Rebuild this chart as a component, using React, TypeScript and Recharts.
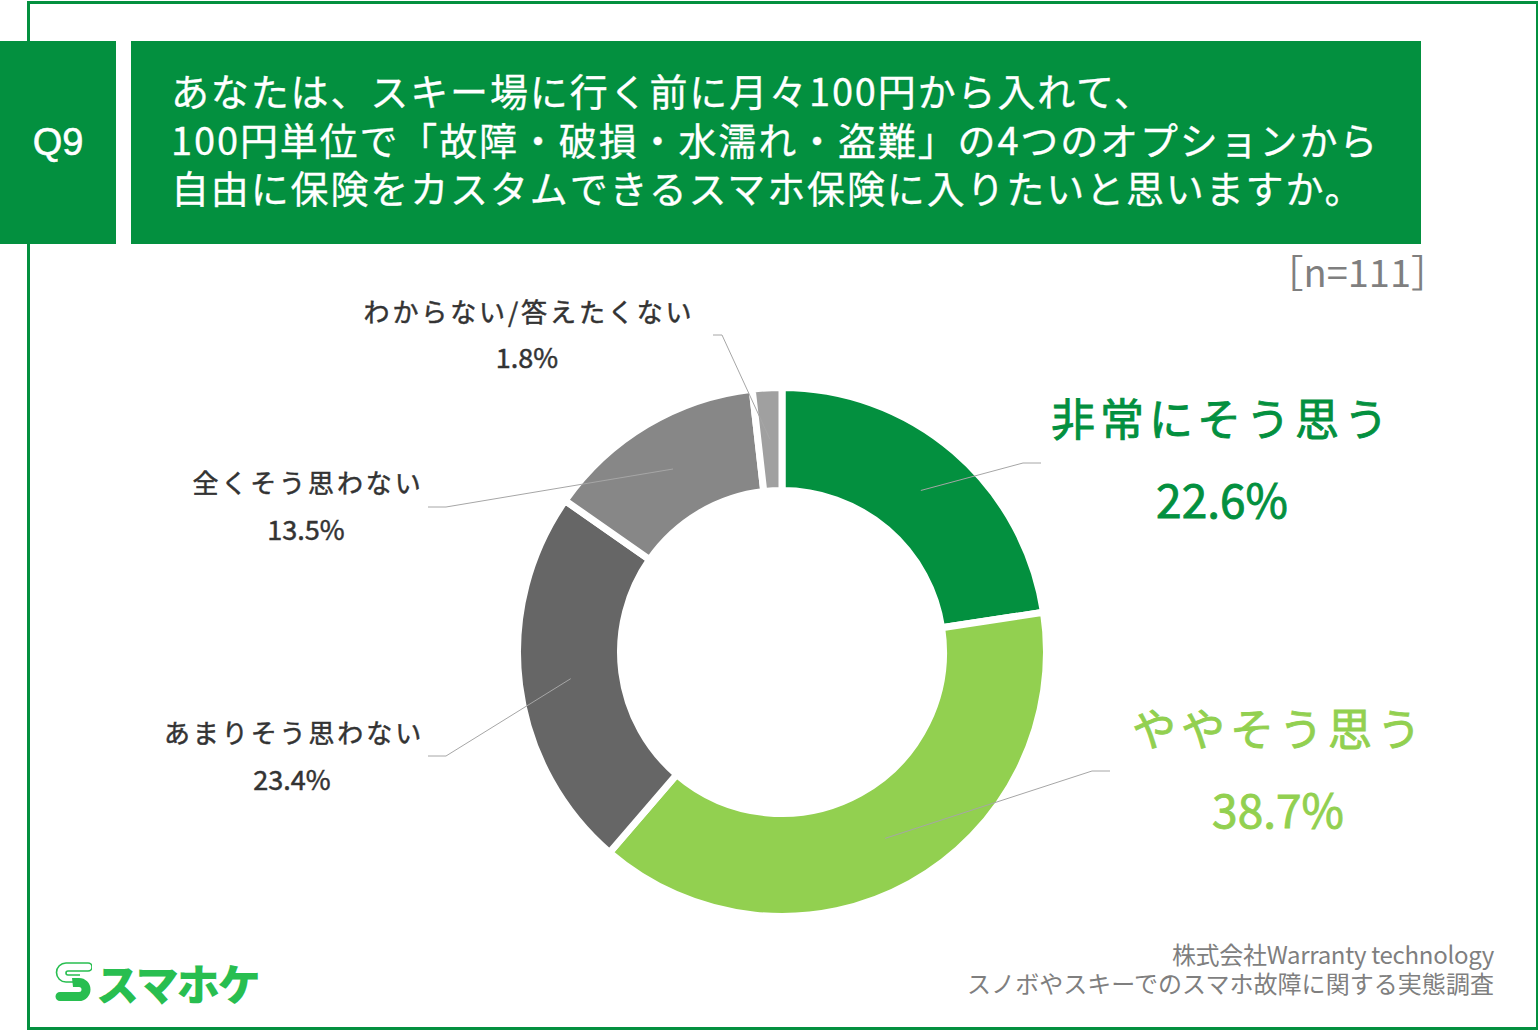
import { PieChart, Pie, Cell } from "recharts";

const categories = [
  "非常にそう思う",
  "ややそう思う",
  "あまりそう思わない",
  "全くそう思わない",
  "わからない/答えたくない",
];
const shares = [22.6, 38.7, 23.4, 13.5, 1.8];
const colors = ["#03903F", "#92D050", "#666666", "#878787", "#A0A0A0"];
const questionLines = [
  "あなたは、スキー場に行く前に月々100円から入れて、",
  "100円単位で「故障・破損・水濡れ・盗難」の4つのオプションから",
  "自由に保険をカスタムできるスマホ保険に入りたいと思いますか。",
];
const sourceLines = ["株式会社Warranty technology", "スノボやスキーでのスマホ故障に関する実態調査"];

const data = categories.map((name, i) => ({ name, value: shares[i] }));

// label placement, hand fitted
const labelSpots = [
  { x: 1222, px: 1222, y1: 436, y2: 518, big: true, color: colors[0], elbow: [1023, 463], end: [1041, 463] },
  { x: 1279, px: 1278, y1: 746, y2: 828, big: true, color: colors[1], elbow: [1092, 771], end: [1110, 771] },
  { x: 294, px: 292, y1: 743, y2: 790, big: false, color: "#333333", elbow: [446, 756], end: [428, 756] },
  { x: 308, px: 306, y1: 493, y2: 540, big: false, color: "#333333", elbow: [446, 507], end: [428, 507] },
  { x: 529, px: 527, y1: 322, y2: 368, big: false, color: "#333333", elbow: [722, 335], end: [713, 335] },
];

const FONT = '"Noto Sans CJK JP", "Noto Sans", sans-serif';
const GREEN = "#03903F";
const RAD = Math.PI / 180;

function SliceLabel(props: any) {
  const s = labelSpots[props.index];
  const size = s.big ? 44 : 26;
  const pctSize = s.big ? 46 : 27;
  return (
    <g fontFamily={FONT} textAnchor="middle" fill={s.color} stroke={s.color} strokeWidth={s.big ? 0.9 : 0.5}>
      <text x={s.x} y={s.y1} fontSize={size} letterSpacing={s.big ? 5 : 2.9}>
        {categories[props.index]}
      </text>
      <text x={s.px} y={s.y2} fontSize={pctSize}>
        {shares[props.index].toFixed(1)}%
      </text>
    </g>
  );
}

function LeaderLine(props: any) {
  const s = labelSpots[props.index];
  const r = (props.innerRadius + props.outerRadius) / 2;
  const x = props.cx + r * Math.cos(-props.midAngle * RAD);
  const y = props.cy + r * Math.sin(-props.midAngle * RAD);
  return (
    <polyline
      points={`${x},${y} ${s.elbow.join(",")} ${s.end.join(",")}`}
      fill="none"
      stroke="#A6A6A6"
      strokeWidth={1}
    />
  );
}

const box = (left: number, top: number, width: number, height: number, background: string) => ({
  position: "absolute" as const,
  left,
  top,
  width,
  height,
  background,
});

export default function App() {
  return (
    <div style={{ position: "absolute", left: 0, top: 0, width: 1538, height: 1032, background: "#fff", overflow: "hidden", fontFamily: FONT }}>
      {/* outer frame */}
      <div style={{ position: "absolute", left: 27, top: 1, width: 1506, height: 1023, border: `3px solid ${GREEN}` }} />

      <div style={box(0, 41, 116, 203, GREEN)} />
      <div style={box(131, 41, 1290, 203, GREEN)} />
      <div style={{ position: "absolute", left: 0, top: 41, width: 116, height: 203, lineHeight: "203px", textAlign: "center", color: "#fff", fontSize: 38, fontFamily: "Liberation Sans", WebkitTextStroke: "0.6px #fff" }}>
        Q9
      </div>
      {questionLines.map((line, i) => (
        <div key={line} style={{ position: "absolute", left: 171, top: 66 + i * 48.5, lineHeight: "48px", fontSize: 38, letterSpacing: 1.87, color: "#fff", whiteSpace: "nowrap", WebkitTextStroke: "0.3px #fff" }}>
          {line}
        </div>
      ))}
      <div style={{ position: "absolute", right: 89, top: 247, lineHeight: "48px", fontSize: 38, color: "#7F7F7F", whiteSpace: "nowrap" }}>
        ［n=111］
      </div>

      <div style={{ position: "absolute", left: 0, top: 0 }}>
        <PieChart width={1538} height={1032} margin={{ top: 0, right: 0, bottom: 0, left: 0 }}>
          <Pie
            data={data}
            dataKey="value"
            nameKey="name"
            cx={782}
            cy={652}
            innerRadius={161.5}
            outerRadius={264.5}
            startAngle={90}
            endAngle={-270}
            stroke="#fff"
            strokeWidth={7}
            isAnimationActive={false}
            label={SliceLabel}
            labelLine={LeaderLine}
          >
            {data.map((d, i) => (
              <Cell key={d.name} fill={colors[i]} />
            ))}
          </Pie>
        </PieChart>
      </div>

      {sourceLines.map((line, i) => (
        <div key={line} style={{ position: "absolute", right: 44, top: 939 + i * 29, lineHeight: "29px", fontSize: 24, color: "#7F7F7F", whiteSpace: "nowrap", letterSpacing: i === 0 ? -0.3 : 0.05 }}>
          {line}
        </div>
      ))}

      {/* logo */}
      <svg style={{ position: "absolute", left: 54, top: 960 }} width={38} height={44} viewBox="0 0 38 44">
        <path d="M34 3 H12 a9.5 9.5 0 0 0 0 19 H26" fill="none" stroke="#28BE50" strokeWidth={1.6} />
        <path d="M34 3 a3.5 3.5 0 0 1 0 8 H14 a2 2 0 0 0 0 4 H26" fill="none" stroke="#28BE50" strokeWidth={1.6} />
        <path d="M18 18 H25 a10 10 0 0 1 0 23 H6 a4.5 4.5 0 0 1 0 -9 H25 a2 2 0 0 0 0 -5 H19 Z" fill="#28BE50" />
      </svg>
      <div style={{ position: "absolute", left: 96, top: 953, lineHeight: "58px", fontSize: 43, fontWeight: 900, color: "#28BE50", letterSpacing: -2, whiteSpace: "nowrap" }}>
        スマホケ
      </div>
    </div>
  );
}
